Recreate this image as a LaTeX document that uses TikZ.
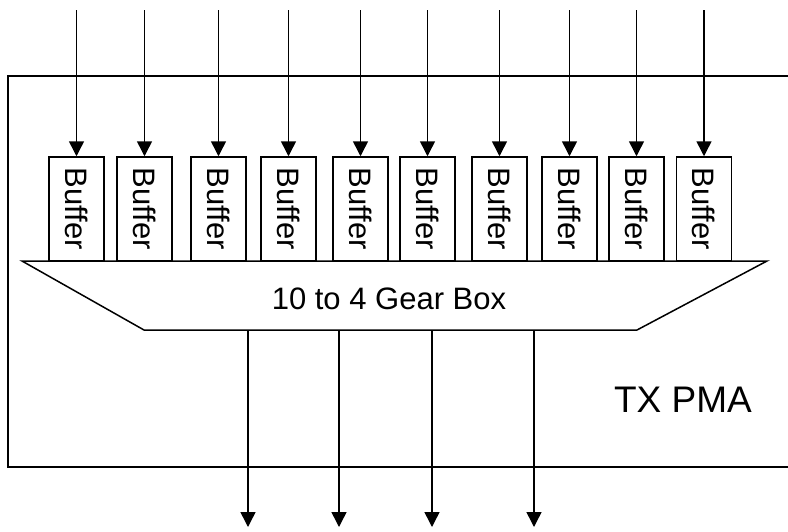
\documentclass[tikz,border=0pt]{standalone}
\usepackage{fontspec}
\setmainfont{Liberation Sans}
\usetikzlibrary{arrows.meta}

\begin{document}
\begin{tikzpicture}[x=1pt, y=-1pt,
            buffer/.style={rectangle, draw=black, line width=1.5pt, inner sep=0pt,
                           minimum width=55pt, minimum height=104pt,
                           font=\fontsize{31}{36}\selectfont},
            label/.style={inner sep=0pt},
            wire/.style={line width=1.5pt},
            arrow/.style={line width=1.5pt, -{Triangle[width=15pt,length=15pt]}}
        ]
        \useasboundingbox (0,0) rectangle (788,531);
        % TX PMA block, open on the right
        \draw[wire] (788,76) -- (8,76) -- (8,467) -- (788,467);
        \node[label, font=\fontsize{37}{42}\selectfont] (pma) at (683,400) {TX PMA};
        % gear box
        \coordinate (gtl) at (22,261);
        \coordinate (gtr) at (767,261);
        \coordinate (gbr) at (637,330);
        \coordinate (gbl) at (144,330);
        \draw[wire, fill=white] (gtl) -- (gtr) -- (gbr) -- (gbl) -- cycle;
        \node[label, font=\fontsize{31}{36}\selectfont] (gear) at (389,299) {10 to 4 Gear Box};
        % buffers with inputs
        \foreach \x [count=\i] in {76.5,144.5,218.5,288.5,360.5,427.5,499.5,569.5,636.5,704} {
            \node[buffer] (b\i) at (\x,209) {\rotatebox{-90}{Buffer}};
            \coordinate (in\i) at (\x,10);
            \draw[arrow] (in\i) -- (b\i.north);
        }
        % outputs
        \foreach \x [count=\i] in {248,339,432,534} {
            \coordinate (o\i) at (\x,330);
            \coordinate (out\i) at (\x,527);
            \draw[arrow] (o\i) -- (out\i);
        }
\end{tikzpicture}
\end{document}
